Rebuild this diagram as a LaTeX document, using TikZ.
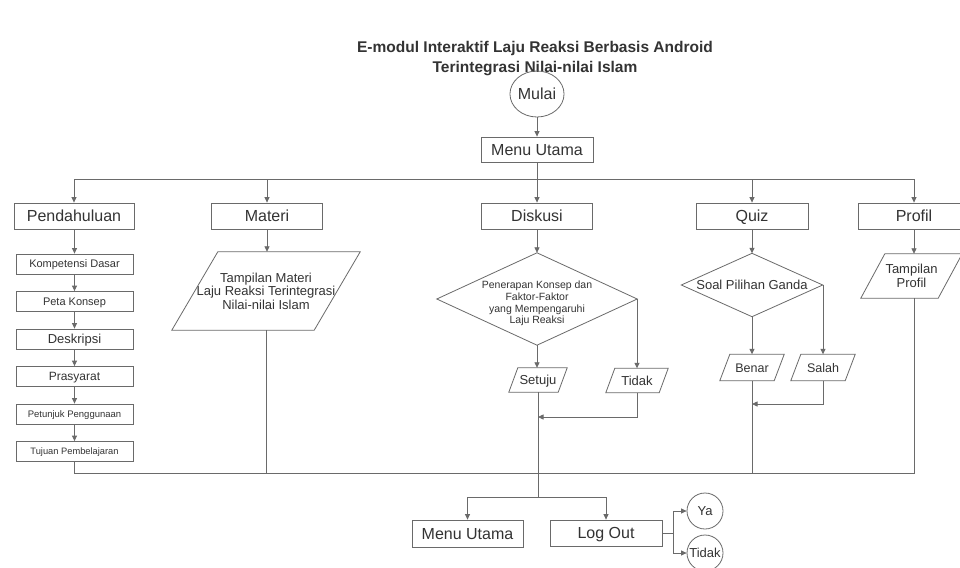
\documentclass[tikz,border=0pt]{standalone}
\usepackage{fontspec}
\setmainfont{Liberation Sans}
\usetikzlibrary{arrows.meta,calc,shapes.geometric}
\definecolor{lncol}{HTML}{6A6A6A}
\definecolor{txcol}{HTML}{333333}
\newcommand\fs[2]{\fontsize{#1}{#2}\selectfont}
\newcommand\paraframe[2]{\draw[lnstyle] ([xshift=-#2]#1.south west) -- ([xshift=#2]#1.north west) -- ([xshift=#2]#1.north east) -- ([xshift=-#2]#1.south east) -- cycle;}
\tikzset{
  every node/.style={text=txcol, inner sep=0pt, align=center},
  lnstyle/.style={draw=lncol, line width=0.8pt},
  capc/.style={text height=#1, text depth=0pt},
  boxA/.style={lnstyle, minimum width=111pt, minimum height=26pt, font=\fs{16}{18}, capc=11.5pt},
  subbox/.style={lnstyle, minimum width=117pt, minimum height=20pt},
  arr/.style={lnstyle, -{Triangle[length=5.5pt,width=5pt]}},
  plain/.style={lnstyle},
  circ/.style={lnstyle, circle, minimum size=36pt, font=\fs{13}{15}, capc=9.3pt},
}
\begin{document}
\begin{tikzpicture}[x=1pt,y=-1pt]
\useasboundingbox (0,0) rectangle (960,567);
\fill[white] (0,0) rectangle (960,567);

% title
\node[font=\bfseries\fontsize{15.5}{20}\selectfont] (title) at (535,58.5) {E-modul Interaktif Laju Reaksi Berbasis Android\\Terintegrasi Nilai-nilai Islam};

% top
\node[lnstyle, ellipse, minimum width=50pt, minimum height=46pt, font=\fs{16}{18}, capc=11.5pt] (mulai) at (537,94) {Mulai};
\node[boxA, minimum width=112pt, minimum height=25pt] (menu1) at (537,149.5) {Menu Utama};
\draw[arr] (mulai) -- (menu1);

\coordinate (busL) at (74,179);
\coordinate (busR) at (914,179);
\draw[plain] (menu1.south) -- (menu1.south |- busL);
\draw[plain] (busL) -- (busR);

% section boxes
\node[boxA, minimum width=120pt] (pend) at (74,216) {Pendahuluan};
\node[boxA] (mat) at (267,216) {Materi};
\node[boxA] (disk) at (537,216) {Diskusi};
\node[boxA, minimum width=112pt] (quiz) at (752,216) {Quiz};
\node[boxA, minimum width=112pt] (prof) at (914,216) {Profil};
\foreach \n in {pend,mat,disk,quiz,prof}{
  \draw[arr] (\n.north |- busL) -- (\n.north);
}

% Pendahuluan column
\node[subbox, font=\fs{11}{13}, capc=7.9pt] (kd) at (74.5,264) {Kompetensi Dasar};
\node[subbox, font=\fs{11}{13}, capc=7.9pt] (pk) at (74.5,301.5) {Peta Konsep};
\node[subbox, font=\fs{13}{15}, capc=9.3pt] (des) at (74.5,339) {Deskripsi};
\node[subbox, font=\fs{12}{14}, capc=8.6pt] (pra) at (74.5,376.5) {Prasyarat};
\node[subbox, font=\fs{9.5}{11}, capc=6.8pt] (pp) at (74.5,414) {Petunjuk Penggunaan};
\node[subbox, font=\fs{9.3}{11}, capc=6.7pt] (tp) at (74.5,451.5) {Tujuan Pembelajaran};
\draw[arr] (pend.south -| kd.north) -- (kd.north);
\draw[arr] (kd) -- (pk);
\draw[arr] (pk) -- (des);
\draw[arr] (des) -- (pra);
\draw[arr] (pra) -- (pp);
\draw[arr] (pp) -- (tp);

% Materi column
\node[minimum width=142pt, minimum height=78pt, font=\fs{13}{13.5}] (tmat) at (266,291) {Tampilan Materi\\Laju Reaksi Terintegrasi\\Nilai-nilai Islam};
\paraframe{tmat}{23pt}
\draw[arr] (mat.south) -- (mat.south |- tmat.north);

% Diskusi column
\node[minimum width=200pt, minimum height=92pt,
      label={[font=\fs{10.5}{11.7}, align=center, yshift=-4.5pt, text=txcol]center:{Penerapan Konsep dan\\Faktor-Faktor\\yang Mempengaruhi\\Laju Reaksi}}] (dis) at (537,299) {};
\draw[lnstyle] (dis.north) -- (dis.east) -- (dis.south) -- (dis.west) -- cycle;
\draw[arr] (disk.south) -- (dis.north);
\node[minimum width=49pt, minimum height=24pt, font=\fs{13}{15}, capc=9.3pt] (set) at (538,380) {Setuju};
\paraframe{set}{4.5pt}
\node[minimum width=53pt, minimum height=24pt, font=\fs{13}{15}, capc=9.3pt] (tid) at (637,380.5) {Tidak};
\paraframe{tid}{4.5pt}
\draw[arr] (dis.south) -- (dis.south |- set.north);
\draw[arr] (dis.east) -| (tid.north);
\coordinate (m1) at (538,417);
\draw[arr] (tid.south) |- (m1);

% Quiz column
\node[minimum width=141pt, minimum height=63pt, font=\fs{13}{15}, capc=9.3pt] (sp) at (752,285) {Soal Pilihan Ganda};
\draw[lnstyle] (sp.north) -- (sp.east) -- (sp.south) -- (sp.west) -- cycle;
\draw[arr] (quiz.south) -- (sp.north);
\node[minimum width=54pt, minimum height=26pt, font=\fs{12.5}{14}, capc=9pt] (ben) at (752,367.5) {Benar};
\paraframe{ben}{5pt}
\node[minimum width=54pt, minimum height=26pt, font=\fs{12.5}{14}, capc=9pt] (sal) at (823,367.5) {Salah};
\paraframe{sal}{5pt}
\draw[arr] (sp.south) -- (ben.north);
\draw[arr] (sp.east) -| (sal.north);
\coordinate (m2) at (752,404);
\draw[arr] (sal.south) |- (m2);

% Profil column
\node[minimum width=77pt, minimum height=44pt, font=\fs{13}{13.5}] (tprof) at (911.5,276) {Tampilan\\Profil};
\paraframe{tprof}{12pt}
\draw[arr] (prof.south) -- (prof.south |- tprof.north);

% bottom collector
\coordinate (botL) at (74.5,473);
\coordinate (botR) at (914,473);
\draw[plain] (tp.south) -- (botL) -- (botR) -- (botR |- tprof.south);
\draw[plain] (tmat.south) -- (tmat.south |- botL);
\draw[plain] (ben.south) -- (ben.south |- botL);

% final
\coordinate (split) at (538,497);
\draw[plain] (set.south) -- (split);
\node[boxA, minimum width=111pt, minimum height=27pt] (menu2) at (467.5,533.5) {Menu Utama};
\node[boxA, minimum width=112pt] (logout) at (606,533) {Log Out};
\draw[arr] (split) -| (menu2.north);
\draw[arr] (split) -| (logout.north);
\node[circ] (ya) at (705,511) {Ya};
\node[circ] (tdk) at (705,553) {Tidak};
\coordinate (lo) at ($(logout.east)+(11,0)$);
\draw[plain] (logout.east) -- (lo);
\draw[arr] (lo) |- (ya.west);
\draw[arr] (lo) |- (tdk.west);
\end{tikzpicture}
\end{document}
